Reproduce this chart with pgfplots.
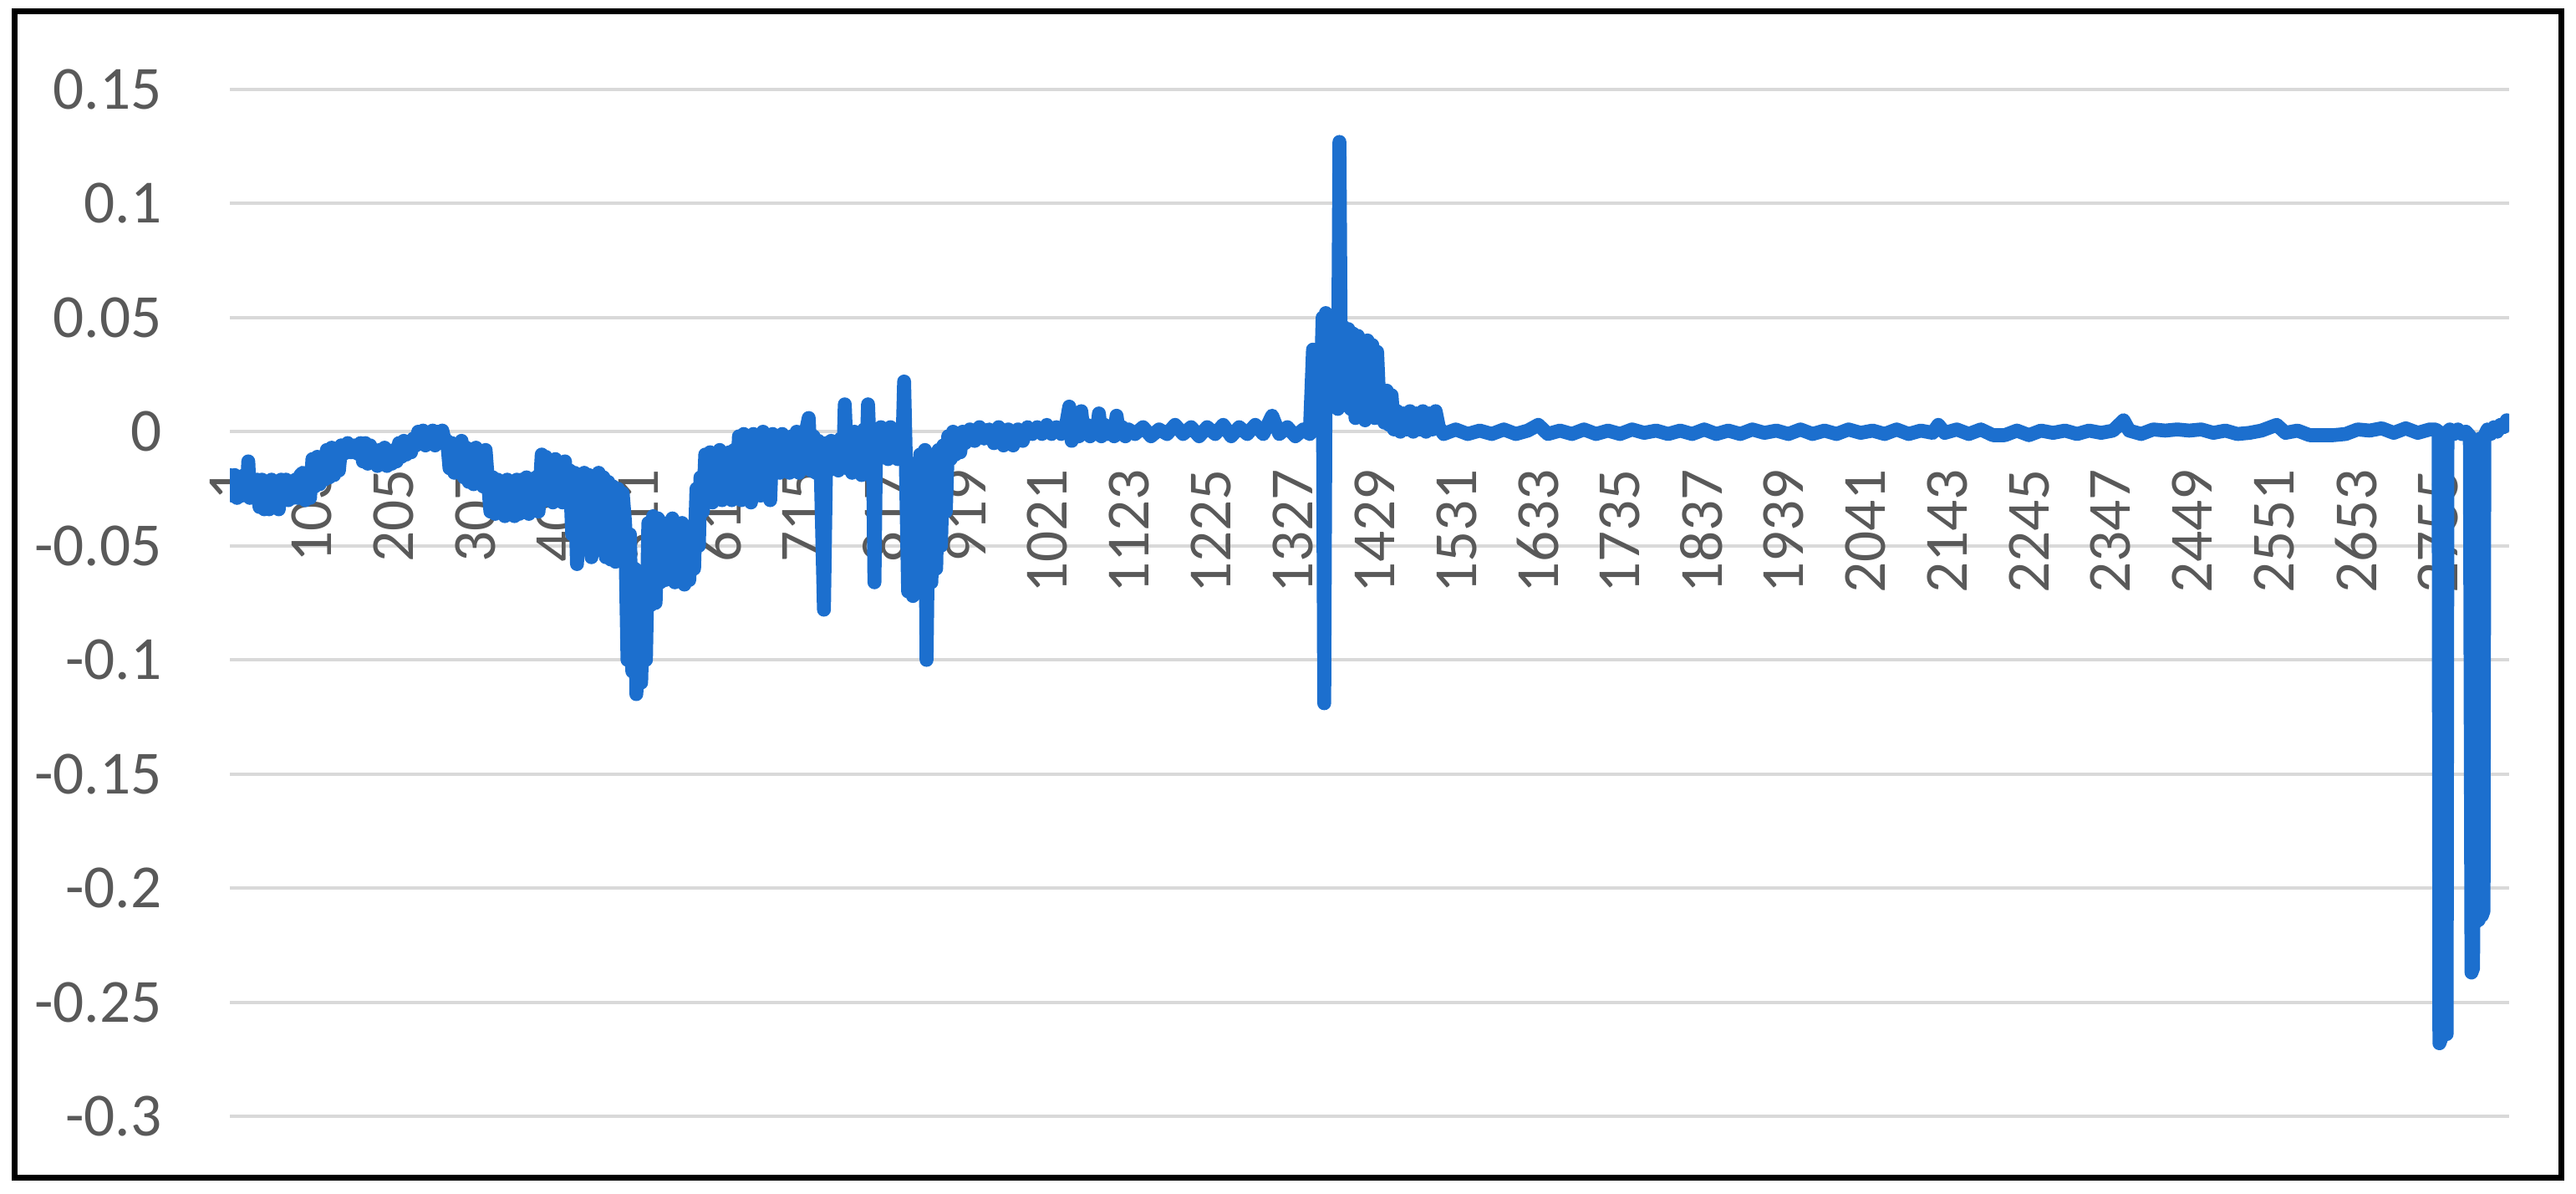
\documentclass[border=0pt]{standalone}
\usepackage{pgfplots}
\pgfplotsset{compat=1.18}
\usepackage{fontspec}
\setmainfont{Carlito}
\definecolor{lineblue}{RGB}{28,111,206}
\definecolor{gridgray}{RGB}{217,217,217}
\definecolor{labelgray}{RGB}{89,89,89}
\begin{document}
\begin{tikzpicture}
\path[use as bounding box] (0,0) rectangle (462.3pt,214.05pt);
\draw[line width=1.05pt] (2.625pt,2.775pt) rectangle (459.675pt,212.03pt);
\begin{axis}[
  at={(41.25pt,13.8pt)}, anchor=south west, scale only axis,
  width=409.05pt, height=184.2pt,
  xmin=1, xmax=2844, ymin=-0.3, ymax=0.15,
  enlargelimits=false,
  axis x line=middle, axis y line=left,
  axis line style={draw=none,-},
  major tick length=0pt,
  ytick={-0.3,-0.25,-0.2,-0.15,-0.1,-0.05,0,0.05,0.1,0.15},
  yticklabels={-0.3,-0.25,-0.2,-0.15,-0.1,-0.05,0,0.05,0.1,0.15},
  ymajorgrids, grid style={gridgray, line width=0.6pt},
  xtick={1,103,...,2755},
  xticklabels={1,103,205,307,409,511,613,715,817,919,1021,1123,1225,1327,1429,1531,1633,1735,1837,1939,2041,2143,2245,2347,2449,2551,2653,2755},
  tick label style={font=\fontsize{11}{13}\selectfont, text=labelgray},
  yticklabel style={anchor=east, inner sep=0pt, xshift=-12pt},
  xticklabel style={rotate=90, anchor=east, inner sep=0pt},
  xticklabel shift=6.5pt,
  hide obscured x ticks=false, hide obscured y ticks=false,
]
\addplot[lineblue, line width=2.5pt, line join=round, line cap=round, mark=none] coordinates {
(1,-0.019) (4,-0.028) (7,-0.019) (10,-0.029) (13,-0.02) (16,-0.028) (19,-0.019) (22,-0.027) (24,-0.013) (26,-0.029)
(29,-0.022) (32,-0.029) (35,-0.021)
(38,-0.033) (41,-0.021) (44,-0.034) (47,-0.022) (50,-0.034) (53,-0.021) (56,-0.033) (59,-0.022) (62,-0.034) (65,-0.021)
(68,-0.03) (71,-0.021) (74,-0.03) (77,-0.022) (80,-0.029)
(83,-0.021) (86,-0.029) (89,-0.019) (92,-0.018) (95,-0.03) (98,-0.02) (101,-0.029)
(104,-0.012) (107,-0.024) (110,-0.011) (113,-0.023) (116,-0.012)
(119,-0.021) (122,-0.008) (125,-0.02) (128,-0.007) (131,-0.019) (134,-0.008) (137,-0.017)
(140,-0.006) (144,-0.0095) (148,-0.005) (152,-0.009) (156,-0.006) (160,-0.0095) (164,-0.005)
(167,-0.013) (170,-0.005) (173,-0.014) (176,-0.006) (179,-0.012)
(182,-0.008) (185,-0.015) (188,-0.008) (191,-0.014) (194,-0.007) (197,-0.015) (200,-0.009) (203,-0.014) (206,-0.008) (209,-0.013)
(212,-0.005) (215,-0.011) (218,-0.004) (221,-0.01) (224,-0.005) (227,-0.009) (230,-0.003)
(233,-0.006) (236,0) (239,-0.005) (242,0.0005) (245,-0.006) (248,-0.001) (251,-0.005) (254,0.0005) (257,-0.006) (260,0) (263,-0.005) (266,0.0005) (269,-0.004)
(272,-0.004) (275,-0.016) (278,-0.005) (281,-0.018) (284,-0.006) (287,-0.017) (290,-0.004)
(293,-0.02) (296,-0.007) (299,-0.022) (302,-0.008) (305,-0.023) (308,-0.007) (311,-0.021) (314,-0.009) (317,-0.024) (320,-0.008)
(323,-0.022) (326,-0.035) (329,-0.02) (332,-0.036) (335,-0.021) (338,-0.035)
(341,-0.022) (344,-0.037) (347,-0.021) (350,-0.036) (353,-0.022) (356,-0.037) (359,-0.021) (362,-0.036)
(365,-0.021) (368,-0.035) (371,-0.02) (374,-0.036) (377,-0.021) (380,-0.034) (383,-0.02) (386,-0.035)
(390,-0.01) (393,-0.03) (395,-0.011)
(398,-0.03) (401,-0.013) (404,-0.031) (407,-0.012) (410,-0.03) (413,-0.014) (416,-0.031) (419,-0.013)
(422,-0.03) (425,-0.017) (428,-0.045) (431,-0.018) (434,-0.058) (437,-0.02) (440,-0.05)
(443,-0.018) (446,-0.05) (449,-0.019) (452,-0.055) (455,-0.02) (458,-0.045) (461,-0.018) (464,-0.052) (467,-0.02) (470,-0.055)
(473,-0.022) (476,-0.056) (479,-0.024) (482,-0.057) (485,-0.025) (488,-0.05) (491,-0.027)
(494,-0.04) (497,-0.1) (500,-0.045) (503,-0.105) (506,-0.06) (508,-0.115) (511,-0.09) (514,-0.11) (517,-0.07) (520,-0.1)
(523,-0.04) (526,-0.076) (529,-0.037) (532,-0.075) (535,-0.038)
(538,-0.066) (541,-0.04) (544,-0.065) (547,-0.042) (550,-0.064) (553,-0.038) (556,-0.066) (559,-0.044) (562,-0.062) (565,-0.04) (568,-0.067) (571,-0.043) (574,-0.065) (577,-0.045) (580,-0.06)
(583,-0.025) (586,-0.05) (588,-0.02)
(591,-0.035) (594,-0.01) (597,-0.03) (600,-0.009) (603,-0.031) (606,-0.011) (609,-0.029) (612,-0.008) (615,-0.03) (618,-0.01) (621,-0.028) (624,-0.009) (627,-0.03) (630,-0.008)
(633,-0.025) (636,-0.002) (639,-0.03) (642,-0.001) (645,-0.02) (648,-0.003) (651,-0.031) (654,-0.001) (657,-0.018) (660,-0.002) (663,-0.028) (666,0) (669,-0.02) (672,-0.003) (675,-0.03) (678,-0.001) (681,-0.018)
(684,-0.003) (687,-0.018) (690,-0.001) (693,-0.017) (696,-0.004) (699,-0.018) (702,-0.002) (705,-0.016) (708,0) (711,-0.018) (714,-0.003) (717,-0.015) (720,0.001) (723,0.006) (726,-0.017) (729,-0.002) (732,-0.018) (735,-0.004) (738,-0.016)
(742,-0.078) (745,-0.005)
(748,-0.017) (751,-0.004) (754,-0.016) (757,-0.005) (760,-0.017) (763,-0.003)
(766,-0.015) (768,0.012) (771,-0.016) (774,-0.002) (777,-0.018) (780,0) (783,-0.014) (786,-0.003) (789,-0.019) (792,0.001) (795,-0.012) (797,0.012) (800,-0.015)
(803,-0.005) (805,-0.066) (807,-0.004)
(810,-0.012) (813,0.002) (816,-0.011) (819,0) (822,-0.012) (825,0.002) (828,-0.01) (831,0.001) (834,-0.012) (837,0)
(840,-0.005) (842,0.022) (844,-0.01)
(847,-0.07) (850,-0.02) (853,-0.072) (856,-0.03) (859,-0.068)
(862,-0.01) (865,-0.065) (868,-0.008) (870,-0.1) (873,-0.012) (876,-0.066) (879,-0.01) (882,-0.06) (885,-0.008) (888,-0.05) (891,-0.006) (894,-0.035)
(897,-0.002) (900,-0.012) (903,0) (906,-0.01) (909,-0.001) (912,-0.009) (915,0)
(918,-0.005) (924,0.001) (930,-0.004) (936,0.002) (942,-0.003) (948,0.001) (954,-0.005) (960,0.002) (966,-0.006) (972,0.001) (978,-0.006) (984,0.001) (990,-0.004)
(996,0.002) (1002,-0.001) (1008,0.002) (1014,-0.001) (1020,0.003) (1026,-0.001) (1032,0.002) (1038,-0.001) (1044,0.003)
(1048,0.011) (1051,-0.004)
(1056,0.001) (1060,-0.002) (1063,0.009) (1066,-0.001) (1070,0.003) (1074,-0.002) (1078,0.002) (1082,-0.001) (1085,0.008) (1088,-0.002) (1092,0.003) (1096,-0.001) (1100,0.002) (1104,-0.002) (1107,0.007) (1110,-0.001) (1114,0.002) (1118,-0.002) (1122,0.001)
(1130,-0.001) (1140,0.002) (1150,-0.002) (1160,0.001) (1170,-0.001) (1180,0.003) (1190,-0.001) (1200,0.002) (1210,-0.002) (1220,0.002) (1230,-0.001) (1240,0.003) (1250,-0.002) (1260,0.002) (1270,-0.001) (1280,0.003) (1290,-0.001) (1301,0.007) (1310,-0.001) (1320,0.002) (1330,-0.002) (1340,0.001) (1348,-0.001)
(1352,0.036) (1355,0.005) (1358,0.035) (1361,0.01) (1364,0.05) (1366,-0.119) (1368,0.052) (1371,0.015) (1374,0.05) (1377,0.02) (1380,0.048) (1383,0.01) (1385,0.127) (1387,0.015) (1390,0.046) (1393,0.012) (1396,0.045) (1399,0.01) (1402,0.043) (1405,0.006) (1408,0.042) (1411,0.012) (1414,0.04) (1417,0.005) (1420,0.04) (1423,0.01) (1426,0.038) (1429,0.006) (1432,0.035) (1435,0.01)
(1438,0.017) (1441,0.004) (1444,0.018) (1447,0.003) (1450,0.016)
(1453,0.001) (1457,0.009) (1461,0) (1465,0.008) (1469,0.001) (1473,0.009) (1477,0) (1481,0.008) (1485,0.001) (1489,0.009) (1493,0) (1497,0.008) (1501,0.001) (1505,0.009) (1509,0.002)
(1515,-0.001) (1530,0.001) (1545,-0.001) (1560,0.0005) (1575,-0.001) (1590,0.001) (1605,-0.001) (1620,0.0005) (1633,0.003) (1645,-0.001) (1660,0.0005) (1675,-0.001) (1690,0.001) (1705,-0.001) (1720,0.0005) (1735,-0.001) (1750,0.001) (1765,-0.0005) (1780,0.0005) (1795,-0.001) (1810,0.0005) (1825,-0.001) (1840,0.001) (1855,-0.001) (1870,0.0005) (1885,-0.001) (1900,0.001) (1915,-0.0005) (1930,0.0005) (1945,-0.001) (1960,0.001) (1975,-0.001) (1990,0.0005) (2005,-0.001) (2020,0.001) (2035,-0.0005) (2050,0.0005) (2065,-0.001) (2080,0.001) (2095,-0.001) (2110,0.0005) (2125,-0.0005) (2132,0.003) (2140,-0.0005) (2155,0.001) (2170,-0.001) (2185,0.001) (2200,-0.0015) (2215,-0.0015) (2230,0.0005) (2245,-0.0015) (2260,0.0005) (2275,-0.0005) (2290,0.0005) (2305,-0.001) (2320,0.0005) (2335,-0.0005) (2350,0.0005) (2363,0.005) (2370,0.0005) (2385,-0.001) (2400,0.001) (2415,0.0005) (2430,0.001) (2445,0.0005) (2460,0.001) (2475,-0.0005) (2490,0.0005) (2505,-0.001) (2520,-0.0005) (2535,0.0005) (2554,0.003) (2565,-0.0005) (2580,0.0005) (2595,-0.0015) (2610,-0.0015) (2625,-0.0015) (2640,-0.001) (2655,0.001) (2670,0.0005) (2685,0.0015) (2700,-0.0005) (2715,0.0015) (2730,-0.0005) (2745,0.001)
(2752,0.001) (2756,0) (2757,-0.268) (2761,-0.264) (2766,-0.264) (2767,0) (2770,0.001) (2775,-0.001) (2780,0.001) (2785,-0.001) (2790,0) (2795,-0.002) (2797,-0.237) (2799,-0.235) (2800,-0.01) (2802,-0.215) (2804,-0.005) (2806,-0.214) (2808,-0.003) (2810,-0.212) (2812,-0.21) (2813,-0.002) (2817,0.001) (2821,-0.001) (2825,0.002) (2829,0) (2833,0.003) (2837,0.002) (2841,0.005) (2843,0.003)
};
\end{axis}
\end{tikzpicture}
\end{document}
